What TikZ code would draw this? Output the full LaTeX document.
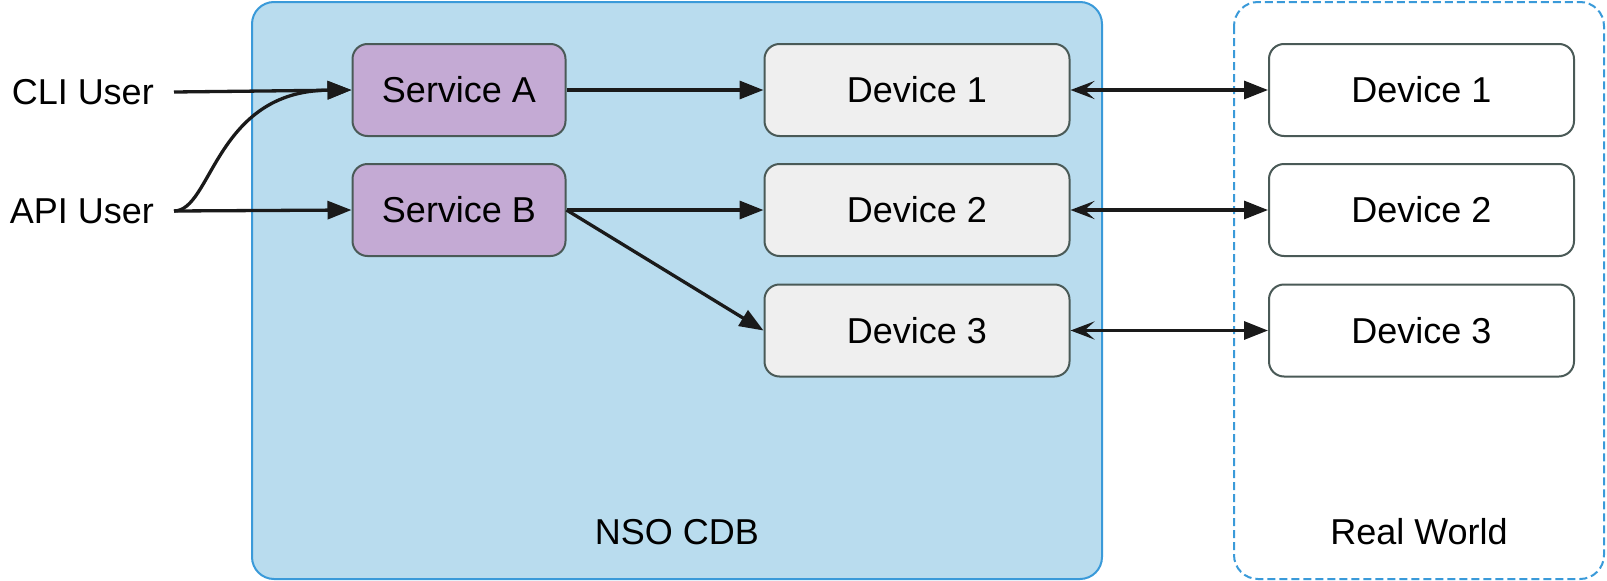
\documentclass[tikz,border=0pt]{standalone}
\usepackage{fontspec}
\setmainfont{Liberation Sans}
\usetikzlibrary{arrows.meta}
\definecolor{nsofill}{HTML}{B9DCEE}
\definecolor{nsoline}{HTML}{3A9AD9}
\definecolor{svcfill}{HTML}{C4AAD4}
\definecolor{devfill}{HTML}{EFEFEF}
\definecolor{boxline}{HTML}{4A5A57}
\definecolor{arrowc}{HTML}{1A1A1A}
\tikzset{
  lbl/.style={font=\fontsize{36}{43}\selectfont, inner sep=0pt},
  box/.style={draw=boxline, line width=2pt, rounded corners=15pt, minimum height=92pt, font=\fontsize{36}{43}\selectfont, inner sep=0pt},
  svc/.style={box, fill=svcfill, minimum width=213pt},
  dev/.style={box, fill=devfill, minimum width=305pt},
  rdev/.style={box, fill=white, minimum width=305pt},
  conn/.style={draw=arrowc, line width=3.3pt, -{Triangle[length=24pt,width=18pt]}},
  bidir/.style={draw=arrowc, line width=3.3pt, {Stealth[length=24pt,width=18pt,inset=10pt]}-{Triangle[length=24pt,width=18pt]}},
  user/.style={font=\fontsize{36}{43}\selectfont, inner ysep=0pt, inner xsep=20pt, anchor=east}
}
\begin{document}
\begin{tikzpicture}[x=1pt,y=-1pt]
\useasboundingbox (0,0) rectangle (1607,581);
\draw[fill=nsofill, draw=nsoline, line width=2pt, rounded corners=22pt] (252,2) rectangle (1102,579);
\draw[fill=white, draw=nsoline, line width=2pt, dash pattern=on 8pt off 4pt, rounded corners=24pt] (1234,2) rectangle (1604,579);
\node[lbl] (nsolbl) at (677,532) {NSO CDB};
\node[lbl] (rwlbl) at (1419,532) {Real World};
\node[user] (cli) at (174,92) {CLI User};
\node[user] (api) at (174,211) {API User};
\node[svc] (sa) at (459,90) {Service A};
\node[svc] (sb) at (459,210) {Service B};
\node[dev] (d1) at (917,90) {Device 1};
\node[dev] (d2) at (917,210) {Device 2};
\node[dev] (d3) at (917,330.5) {Device 3};
\node[rdev] (r1) at (1421.5,90) {Device 1};
\node[rdev] (r2) at (1421.5,210) {Device 2};
\node[rdev] (r3) at (1421.5,330.5) {Device 3};
\draw[conn] (cli.east) -- (sa.west);
\draw[conn] (api.east) .. controls (212,211) and (215,91) .. (sa.west);
\draw[conn] (api.east) -- (sb.west);
\draw[conn] (sa.east) -- (d1.west);
\draw[conn] (sb.east) -- (d2.west);
\draw[conn] (sb.east) -- (d3.west);
\draw[bidir] (d1.east) -- (r1.west);
\draw[bidir] (d2.east) -- (r2.west);
\draw[bidir] (d3.east) -- (r3.west);
\end{tikzpicture}
\end{document}
